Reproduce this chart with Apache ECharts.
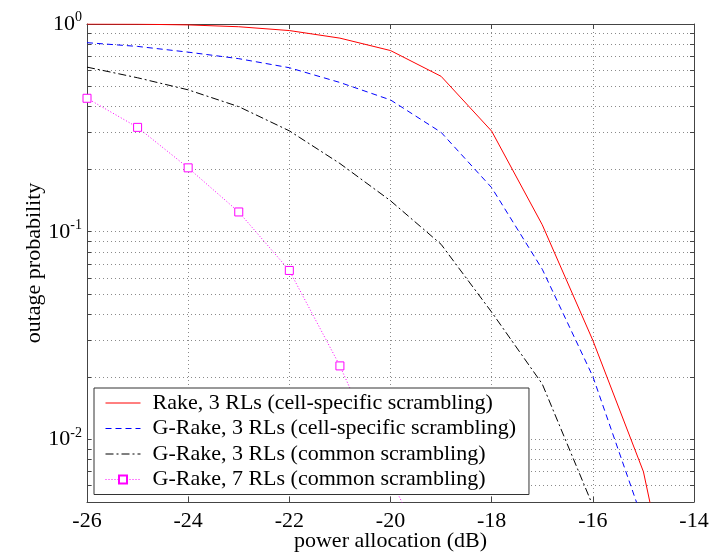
<!DOCTYPE html>
<html>
<head>
<meta charset="utf-8">
<script src="https://cdn.jsdelivr.net/npm/echarts@6/dist/echarts.min.js"></script>
<style>html,body{margin:0;padding:0;background:#fff}#c{width:715px;height:553px}</style>
</head>
<body>
<div id="c"></div>
<script>
const xValues = [-26, -25, -24, -23, -22, -21, -20, -19, -18, -17, -16, -15, -14];
const rake3Cell   = [1.0, 0.998, 0.99, 0.97, 0.93, 0.855, 0.745, 0.56, 0.305, 0.108, 0.030, 0.0070, 0.0005];
const grake3Cell  = [0.813, 0.78, 0.732, 0.681, 0.616, 0.523, 0.431, 0.301, 0.163, 0.066, 0.0201, 0.0040, 0.0003];
const grake3Common= [0.620, 0.551, 0.482, 0.400, 0.306, 0.213, 0.141, 0.087, 0.0410, 0.0185, 0.0048, 0.0006, null];
const grake7Common= [0.439, 0.318, 0.203, 0.1245, 0.0651, 0.0226, 0.0065, 0.002, null, null, null, null, null];
const seriesNames = [
  'Rake, 3 RLs (cell-specific scrambling)',
  'G-Rake, 3 RLs (cell-specific scrambling)',
  'G-Rake, 3 RLs (common scrambling)',
  'G-Rake, 7 RLs (common scrambling)'
];
const yMajorTicks = [1, 0.1, 0.01];
const yAllTicks = [1,0.9,0.8,0.7,0.6,0.5,0.4,0.3,0.2,0.1,0.09,0.08,0.07,0.06,0.05,0.04,0.03,0.02,0.01,0.009,0.008,0.007,0.006];
const xTitle = 'power allocation (dB)';
const yTitle = 'outage probability';

const FONT = 'Liberation Serif';
const pair = (arr) => xValues.map((x, i) => [x, arr[i]]);
const chart = echarts.init(document.getElementById('c'), null, {renderer: 'canvas'});
const axisLineStyle = {color: '#444', width: 1};
const gridStyle = {color: '#8a8a8a', type: [1, 3], width: 1};
const option = {
  backgroundColor: '#fff',
  animation: false,
  grid: {left: 87, right: 21, top: 24, bottom: 51, containLabel: false, outerBoundsMode: 'none'},
  xAxis: [{
    type: 'value', min: -26, max: -14, interval: 2, position: 'bottom',
    name: xTitle, nameLocation: 'middle', nameGap: 28, nameMoveOverlap: false,
    nameTextStyle: {fontFamily: FONT, fontSize: 22, color: '#000'},
    axisLine: {show: true, lineStyle: axisLineStyle},
    axisTick: {show: true, inside: true, length: 5, lineStyle: axisLineStyle},
    axisLabel: {fontFamily: FONT, fontSize: 22, color: '#000', margin: 8},
    splitLine: {show: true, lineStyle: gridStyle}
  }, {
    type: 'value', min: -26, max: -14, interval: 2, position: 'top',
    axisLine: {show: true, lineStyle: axisLineStyle},
    axisTick: {show: true, inside: true, length: 5, lineStyle: axisLineStyle},
    axisLabel: {show: false}, splitLine: {show: false}
  }],
  yAxis: [{
    type: 'log', logBase: 10, min: 0.005, max: 1, position: 'left',
    name: yTitle, nameLocation: 'middle', nameGap: 42, nameMoveOverlap: false,
    nameTextStyle: {fontFamily: FONT, fontSize: 22, color: '#000'},
    axisLine: {show: true, lineStyle: axisLineStyle},
    axisTick: {show: true, inside: true, length: 4, lineStyle: axisLineStyle, customValues: yAllTicks},
    axisLabel: {
      customValues: yMajorTicks, margin: 5,
      formatter: (v) => '{b|10}{s|' + Math.round(Math.log10(v)) + '}',
      rich: {
        b: {fontFamily: FONT, fontSize: 22, color: '#000'},
        s: {fontFamily: FONT, fontSize: 14, color: '#000', padding: [0, 0, 13, 0]}
      }
    },
    splitLine: {show: true, lineStyle: gridStyle}
  }, {
    type: 'log', logBase: 10, min: 0.005, max: 1, position: 'right',
    axisLine: {show: true, lineStyle: axisLineStyle},
    axisTick: {show: true, inside: true, length: 4, lineStyle: axisLineStyle, customValues: yAllTicks},
    axisLabel: {show: false}, splitLine: {show: false}
  }],
  legend: {
    orient: 'vertical', left: 94, top: 388,
    backgroundColor: '#fff', borderColor: '#333', borderWidth: 1,
    padding: [4, 13, 4, 11], itemWidth: 35, itemHeight: 10, itemGap: 3.5,
    lineStyle: {width: 1},
    textStyle: {fontFamily: FONT, fontSize: 22, color: '#000', lineHeight: 22, padding: [0, 0, 0, 7]},
    data: seriesNames.map((n, i) => i < 3 ? {name: n, itemStyle: {opacity: 0}} : {name: n})
  },
  series: [{
    name: seriesNames[0], type: 'line', data: pair(rake3Cell), symbol: 'none',
    lineStyle: {color: '#ff0000', width: 1}, itemStyle: {color: '#ff0000'}, z: 4
  }, {
    name: seriesNames[1], type: 'line', data: pair(grake3Cell), symbol: 'none',
    lineStyle: {color: '#0000ff', width: 1, type: [6, 4]}, itemStyle: {color: '#0000ff'}, z: 3
  }, {
    name: seriesNames[2], type: 'line', data: pair(grake3Common), symbol: 'none',
    lineStyle: {color: '#000', width: 1, type: [8, 3, 2, 3]}, itemStyle: {color: '#000'}, z: 3
  }, {
    name: seriesNames[3], type: 'line', data: pair(grake7Common),
    symbol: 'rect', symbolSize: 8,
    lineStyle: {color: '#ff00ff', width: 1, type: [1, 2]},
    itemStyle: {color: '#fff', borderColor: '#ff00ff', borderWidth: 1}, z: 3
  }]
};
chart.setOption(option);
</script>
</body>
</html>
